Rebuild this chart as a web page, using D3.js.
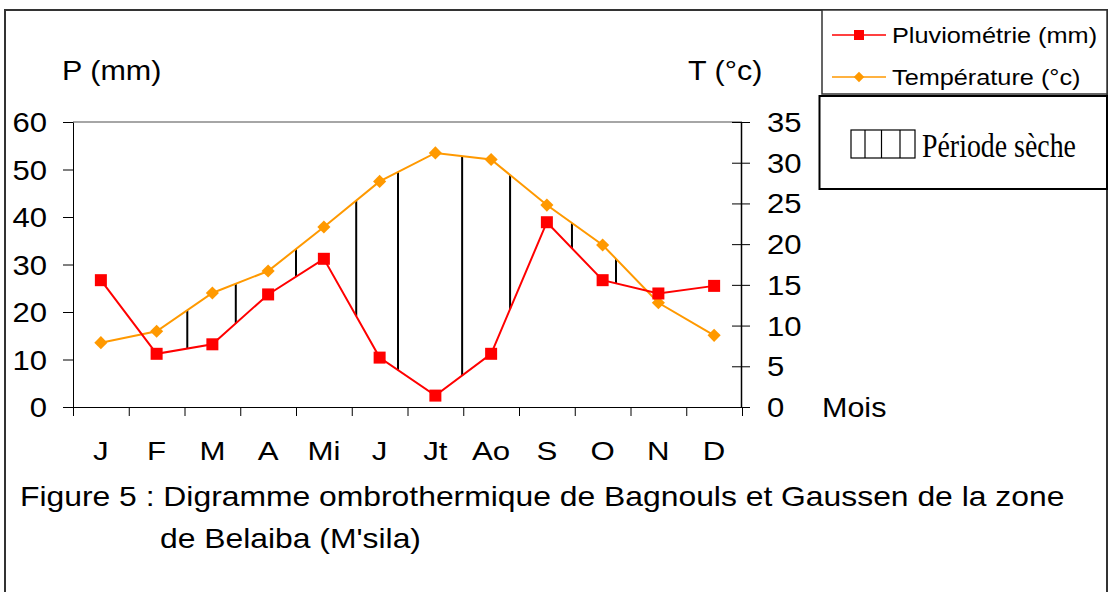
<!DOCTYPE html>
<html>
<head>
<meta charset="utf-8">
<script src="https://cdn.jsdelivr.net/npm/d3@7"></script>
<style>
  body { margin: 0; background: #fff; }
  svg text { font-family: "Liberation Sans", Arial, sans-serif; fill: #000; }
</style>
</head>
<body>
<svg id="chart" width="1115" height="592"></svg>
<script>
/* DATA */
var months = ['J', 'F', 'M', 'A', 'Mi', 'J ', 'Jt', 'Ao', 'S', 'O', 'N', 'D'];
var pluie = [26.7, 11.2, 13.2, 23.7, 31.2, 10.4, 2.4, 11.2, 38.9, 26.7, 23.9, 25.5];
var temperature = [7.9, 9.3, 14.0, 16.7, 22.1, 27.7, 31.2, 30.4, 24.8, 19.9, 12.8, 8.8];
var pTicks = [0, 10, 20, 30, 40, 50, 60];
var tTicks = [0, 5, 10, 15, 20, 25, 30, 35];
/* hatching of the dry period, position in month units (0 = J) */
var hatchAt = [1.55, 2.42, 3.5, 4.58, 5.33, 6.48, 7.34, 8.45, 9.24];

var SX = 1.15; // the picture is stretched horizontally
var svg = d3.select('#chart');

/* SCALES */
var x = d3.scaleBand().domain(months).range([73, 742]).padding(0);
var xEdge = d3.scaleLinear().domain([0, 12]).range([73, 742]);
var xIdx = d3.scaleLinear().domain([-0.5, 11.5]).range([73, 742]);
var yP = d3.scaleLinear().domain([0, 60]).range([407, 122]);
var yT = d3.scaleLinear().domain([0, 35]).range([407, 122]);

function cx(i) { return x(months[i]) + x.bandwidth() / 2; }

function txt(g, str, tx, ty, size, anchor, family, sx) {
  var t = g.append('text')
    .attr('transform', 'translate(' + tx + ',' + ty + ') scale(' + (sx || SX) + ',1)')
    .attr('font-size', size)
    .attr('text-anchor', anchor || 'start')
    .text(str);
  if (family) t.style('font-family', family);
  return t;
}

/* OUTER FRAME */
svg.append('rect').attr('x', 5).attr('y', 10).attr('width', 1102).attr('height', 600)
  .attr('fill', 'none').attr('stroke', '#333').attr('stroke-width', 2);

/* PLOT TOP BORDER */
svg.append('line').attr('x1', 73).attr('x2', 742).attr('y1', yP(60)).attr('y2', yP(60))
  .attr('stroke', '#888').attr('stroke-width', 1.5);

/* LEFT AXIS */
var gL = svg.append('g').attr('transform', 'translate(73,0)')
  .call(d3.axisLeft(yP).tickValues(pTicks).tickSize(10).tickSizeOuter(0).tickFormat(''));
gL.select('.domain').attr('stroke', '#000');
gL.selectAll('line').attr('stroke', '#000');
pTicks.forEach(function(v) { txt(svg, v, 47, yP(v) + 10, 27, 'end'); });

/* RIGHT AXIS */
var gR = svg.append('g').attr('transform', 'translate(741,0)')
  .call(d3.axisRight(yT).tickValues(tTicks).tickSize(9).tickSizeOuter(0).tickFormat(''));
gR.select('.domain').attr('stroke', '#000').attr('stroke-width', 1.5);
gR.selectAll('.tick line').attr('x1', -9).attr('stroke', '#000');
tTicks.forEach(function(v) { txt(svg, v, 767, yT(v) + 10, 27, 'start'); });

/* BOTTOM AXIS (ticks between months) */
var gB = svg.append('g').attr('transform', 'translate(0,407)')
  .call(d3.axisBottom(xEdge).tickValues(d3.range(13)).tickSize(9).tickSizeOuter(0).tickFormat(''));
gB.select('.domain').attr('stroke', '#000');
gB.selectAll('line').attr('stroke', '#000');
months.forEach(function(m, i) { txt(svg, m.trim(), cx(i), 460, 26, 'middle', null, 1.2); });

/* AXIS TITLES */
txt(svg, 'P (mm)', 62, 80, 27, 'start', null, 1.13);
txt(svg, 'T (°c)', 688, 80, 27, 'start', null, 1.13);
txt(svg, 'Mois', 822, 417, 28, 'start', null, 1.09);

/* DRY PERIOD HATCHING */
function interp(arr, f) {
  var i = Math.floor(f), t = f - i;
  return arr[i] + (arr[i + 1] - arr[i]) * t;
}
svg.append('g').selectAll('line').data(hatchAt).enter().append('line')
  .attr('x1', function(d) { return xIdx(d); })
  .attr('x2', function(d) { return xIdx(d); })
  .attr('y1', function(d) { return yP(interp(pluie, d)); })
  .attr('y2', function(d) { return yT(interp(temperature, d)); })
  .attr('stroke', '#000').attr('stroke-width', 2);

/* LINES */
var lineP = d3.line().x(function(d, i) { return cx(i); }).y(function(d) { return yP(d); });
var lineT = d3.line().x(function(d, i) { return cx(i); }).y(function(d) { return yT(d); });

svg.append('path').datum(temperature).attr('d', lineT)
  .attr('fill', 'none').attr('stroke', '#ff9900').attr('stroke-width', 2);
svg.append('path').datum(pluie).attr('d', lineP)
  .attr('fill', 'none').attr('stroke', '#ff0000').attr('stroke-width', 2);

var diamond = d3.symbol().type(d3.symbolDiamond2).size(110);
svg.append('g').selectAll('path').data(temperature).enter().append('path')
  .attr('d', diamond)
  .attr('transform', function(d, i) { return 'translate(' + cx(i) + ',' + yT(d) + ')'; })
  .attr('fill', '#ff9900');

svg.append('g').selectAll('rect').data(pluie).enter().append('rect')
  .attr('x', function(d, i) { return cx(i) - 6; })
  .attr('y', function(d) { return yP(d) - 6; })
  .attr('width', 12).attr('height', 12)
  .attr('fill', '#ff0000');

/* LEGEND */
var leg = svg.append('g');
leg.append('rect').attr('x', 822).attr('y', 10).attr('width', 285).attr('height', 84)
  .attr('fill', '#fff').attr('stroke', '#333').attr('stroke-width', 1.5);
leg.append('line').attr('x1', 832).attr('x2', 886).attr('y1', 35).attr('y2', 35)
  .attr('stroke', '#ff0000').attr('stroke-width', 1.5);
leg.append('rect').attr('x', 854).attr('y', 30).attr('width', 10).attr('height', 10).attr('fill', '#ff0000');
txt(leg, 'Pluviométrie (mm)', 892, 43, 22);
leg.append('line').attr('x1', 832).attr('x2', 886).attr('y1', 77).attr('y2', 77)
  .attr('stroke', '#ff9900').attr('stroke-width', 1.5);
leg.append('path').attr('d', d3.symbol().type(d3.symbolDiamond2).size(70))
  .attr('transform', 'translate(859,77)').attr('fill', '#ff9900');
txt(leg, 'Température (°c)', 892, 85, 22);

var leg2 = svg.append('g');
leg2.append('rect').attr('x', 819.5).attr('y', 96).attr('width', 287.5).attr('height', 93)
  .attr('fill', '#fff').attr('stroke', '#000').attr('stroke-width', 2);
leg2.append('rect').attr('x', 851).attr('y', 130).attr('width', 64).attr('height', 28)
  .attr('fill', 'none').attr('stroke', '#000').attr('stroke-width', 1.2);
[865, 881.5, 900].forEach(function(lx) {
  leg2.append('line').attr('x1', lx).attr('x2', lx).attr('y1', 130).attr('y2', 158)
    .attr('stroke', '#000').attr('stroke-width', 1.2);
});
txt(leg2, 'Période sèche', 922, 157, 34, 'start', '"Liberation Serif", "Times New Roman", serif', 0.82);

/* CAPTION */
txt(svg, 'Figure 5 : Digramme ombrothermique de Bagnouls et Gaussen de la zone', 20, 506, 27, 'start', null, 1.18);
txt(svg, "de Belaiba (M'sila)", 160, 548, 27, 'start', null, 1.18);
</script>
</body>
</html>
